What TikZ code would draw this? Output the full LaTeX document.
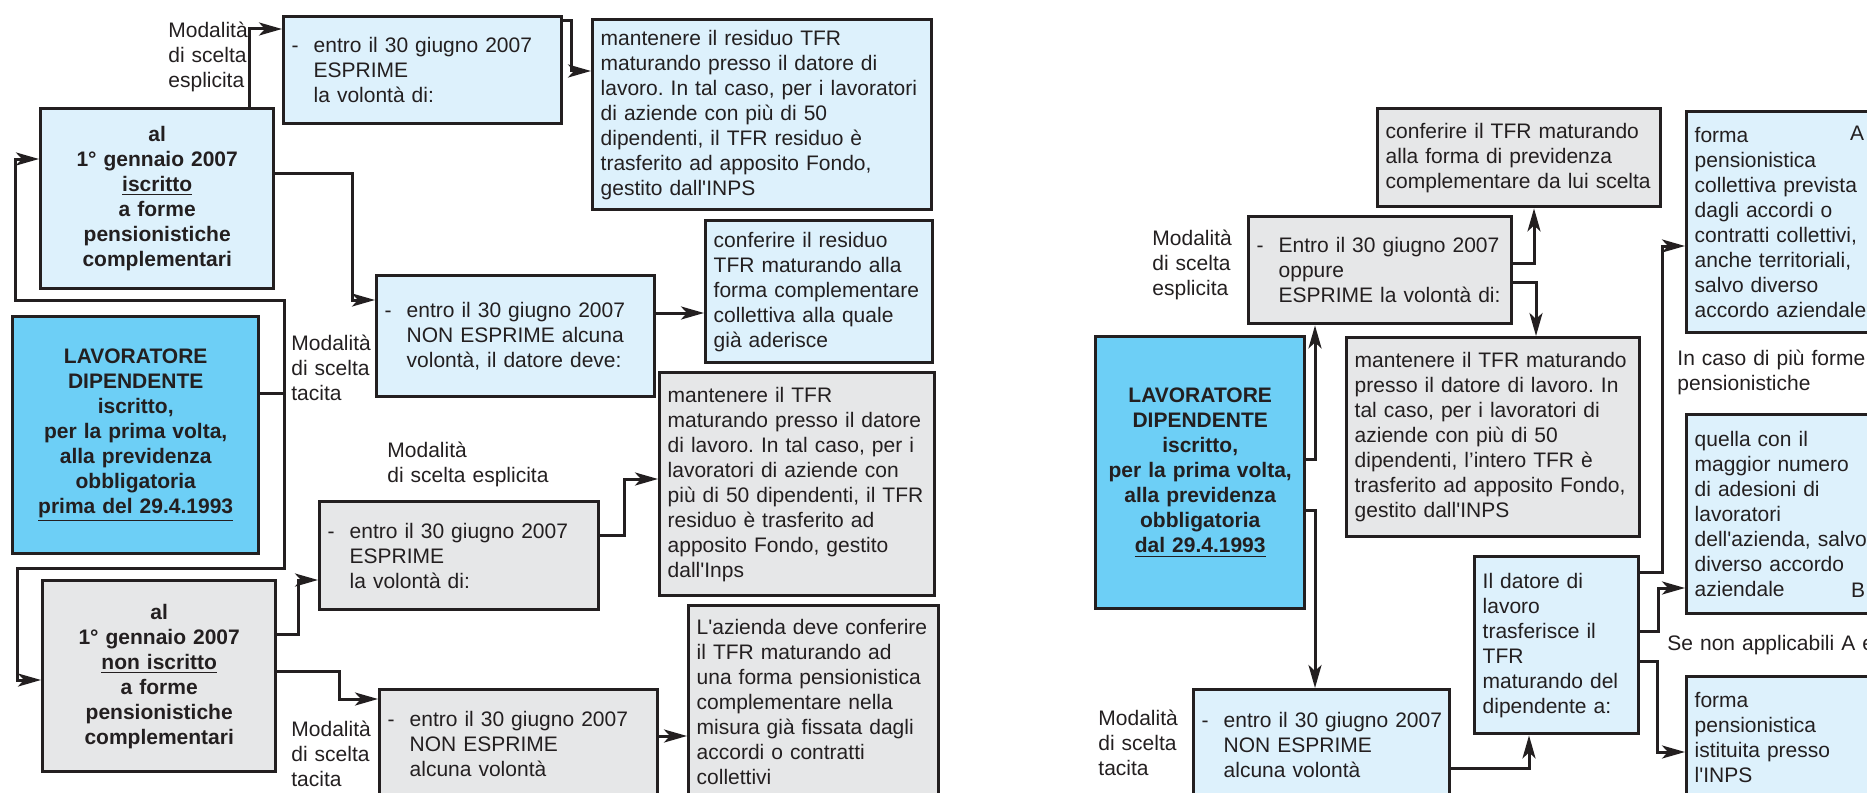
\documentclass[tikz,border=0pt]{standalone}
\usepackage{fontspec}
\setmainfont{Liberation Sans}
\usetikzlibrary{arrows.meta, calc}

\definecolor{azzurro}{RGB}{221,241,252}
\definecolor{celeste}{RGB}{109,207,246}
\definecolor{grigio}{RGB}{230,231,232}
\definecolor{bordo}{RGB}{35,31,32}

\newcommand{\trat}{\makebox[11pt][l]{-}}
\newcommand{\rientro}{\hspace*{11pt}}
\frenchspacing

\begin{document}
\begin{tikzpicture}[x=0.5pt, y=-0.5pt,
    every node/.style={font=\fontsize{10.5}{12.5}\selectfont, text=bordo},
    casella/.style={draw=bordo, line width=1.7pt, anchor=north west, inner xsep=4pt, inner ysep=0pt, align=left},
    chiaro/.style={casella, fill=azzurro},
    grigia/.style={casella, fill=grigio},
    forte/.style={casella, fill=celeste, align=center, font=\fontsize{10.5}{12.5}\selectfont\bfseries},
    etichetta/.style={anchor=base west, inner sep=0pt, align=left, text width=150pt},
    freccia/.style={draw=bordo, line width=1.5pt, -{Stealth[length=11.5pt, width=6.5pt, inset=3pt]}}]
  \useasboundingbox (0,0) rectangle (1867,792);
  \clip (0,0) rectangle (1867,792);
  \fill[white] (0,0) rectangle (1867,792);

  \node[forte, fill=azzurro, text width=108.5pt, minimum height=90pt] (iscr_1) at (39,107)
    {al\\1° gennaio 2007\\\underline{iscritto}\\a forme\\pensionistiche\\complementari};
  \node[forte, text width=115pt, minimum height=118.5pt] (lav_1) at (11,315)
    {LAVORATORE\\DIPENDENTE\\iscritto,\\per la prima volta,\\alla previdenza\\obbligatoria\\\underline{prima del 29.4.1993}};
  \node[forte, fill=grigio, text width=108.5pt, minimum height=95.5pt] (noniscr_1) at (41,579)
    {al\\1° gennaio 2007\\\underline{non iscritto}\\a forme\\pensionistiche\\complementari};
  \node[chiaro, text width=131pt, minimum height=53.5pt] (espr_1) at (282,15)
    {\trat entro il 30 giugno 2007\\\rientro ESPRIME\\\rientro la volontà di:};
  \node[chiaro, text width=161.5pt, minimum height=95pt] (mant_1) at (591,18)
    {mantenere il residuo TFR\\maturando presso il datore di\\lavoro. In tal caso, per i lavoratori\\di aziende con più di 50\\dipendenti, il TFR residuo è\\trasferito ad apposito Fondo,\\gestito dall\textquotesingle INPS};
  \node[chiaro, text width=131pt, minimum height=60.5pt] (nonespr_1) at (375,274)
    {\trat entro il 30 giugno 2007\\\rientro NON ESPRIME alcuna\\\rientro volontà, il datore deve:};
  \node[chiaro, text width=105.5pt, minimum height=71pt] (conf_1) at (704,219)
    {conferire il residuo\\TFR maturando alla\\forma complementare\\collettiva alla quale\\già aderisce};
  \node[grigia, text width=131.5pt, minimum height=54pt] (espr_2) at (318,500)
    {\trat entro il 30 giugno 2007\\\rientro ESPRIME\\\rientro la volontà di:};
  \node[grigia, text width=129.5pt, minimum height=111.5pt] (mant_2) at (658,371)
    {mantenere il TFR\\maturando presso il datore\\di lavoro. In tal caso, per i\\lavoratori di aziende con\\più di 50 dipendenti, il TFR\\residuo è trasferito ad\\apposito Fondo, gestito\\dall\textquotesingle Inps};
  \node[grigia, text width=131pt, minimum height=54pt] (nonespr_2) at (378,688)
    {\trat entro il 30 giugno 2007\\\rientro NON ESPRIME\\\rientro alcuna volontà};
  \node[grigia, text width=117pt, minimum height=96pt] (azienda_1) at (687,604)
    {L\textquotesingle azienda deve conferire\\il TFR maturando ad\\una forma pensionistica\\complementare nella\\misura già fissata dagli\\accordi o contratti\\collettivi};

  \node[etichetta] (mod_1) at (168,38) {Modalità\\di scelta\\esplicita};
  \node[etichetta] (mod_2) at (291,350) {Modalità\\di scelta\\tacita};
  \node[etichetta] (mod_3) at (387,457) {Modalità\\di scelta esplicita};
  \node[etichetta] (mod_4) at (291,736) {Modalità\\di scelta\\tacita};

  \node[forte, text width=96.5pt, minimum height=136pt] (lav_2) at (1094,335)
    {LAVORATORE\\DIPENDENTE\\iscritto,\\per la prima volta,\\alla previdenza\\obbligatoria\\\underline{dal 29.4.1993}};
  \node[grigia, text width=133.5pt, minimum height=49pt] (conf_2) at (1376,107)
    {conferire il TFR maturando\\alla forma di previdenza\\complementare da lui scelta};
  \node[grigia, text width=123.5pt, minimum height=53.5pt] (espr_3) at (1247,215)
    {\trat Entro il 30 giugno 2007\\\rientro oppure\\\rientro ESPRIME la volontà di:};
  \node[grigia, text width=138.5pt, minimum height=99.5pt] (mant_3) at (1345,336)
    {mantenere il TFR maturando\\presso il datore di lavoro. In\\tal caso, per i lavoratori di\\aziende con più di 50\\dipendenti, l’intero TFR è\\trasferito ad apposito Fondo,\\gestito dall\textquotesingle INPS};
  \node[chiaro, text width=120pt, minimum height=55pt] (nonespr_3) at (1192,688)
    {\trat\mbox{entro il 30 giugno 2007}\\\rientro NON ESPRIME\\\rientro alcuna volontà};
  \node[chiaro, text width=74pt, minimum height=88.5pt] (datore_1) at (1473,555)
    {Il datore di\\lavoro\\trasferisce il\\TFR\\maturando del\\dipendente a:};
  \node[chiaro, text width=87pt, minimum height=110.5pt] (forma_A) at (1685,110)
    {forma\\pensionistica\\collettiva prevista\\dagli accordi o\\contratti collettivi,\\anche territoriali,\\salvo diverso\\accordo aziendale};
  \node[chiaro, text width=87pt, minimum height=99.5pt] (forma_B) at (1685,413)
    {quella con il\\maggior numero\\di adesioni di\\lavoratori\\dell\textquotesingle azienda, salvo\\diverso accordo\\aziendale};
  \node[chiaro, text width=87pt, minimum height=60.5pt] (forma_C) at (1685,675)
    {forma\\pensionistica\\istituita presso\\l\textquotesingle INPS};
  \node (lett_A) at (1857,133) {A};
  \node (lett_B) at (1858,590) {B};

  \node[etichetta] (mod_5) at (1152,245) {Modalità\\di scelta\\esplicita};
  \node[etichetta] (mod_6) at (1098,725) {Modalità\\di scelta\\tacita};
  \node[etichetta] (caso) at (1677,365) {In caso di più forme\\pensionistiche};
  \node[etichetta] (senon) at (1667,650) {\mbox{Se non applicabili A e B}};

  \draw[freccia] ($(iscr_1.north west)+(210,0)$) |- ($(espr_1.north west)+(0,14)$);
  \draw[freccia] ($(espr_1.north east)+(0,6)$) -- ++(8,0) |- ($(mant_1.north west)+(0,53)$);
  \draw[freccia] ($(iscr_1.north east)+(0,66)$) -- ++(77,0) |- ($(nonespr_1.north west)+(0,26)$);
  \draw[freccia] ($(nonespr_1.north east)+(0,39)$) coordinate (c_4) -- (c_4 -| conf_1.west);
  \draw[freccia] ($(lav_1.north east)+(0,78)$) -- ++(24,0) coordinate (j_1) |- ++(-269,-93)
    |- ($(iscr_1.north west)+(0,52)$);
  \draw[freccia] (j_1) |- ++(-267,175) |- ($(noniscr_1.north west)+(0,101)$);
  \draw[freccia] ($(noniscr_1.north east)+(0,55)$) -- ++(21,0) |- ($(espr_2.north west)+(0,80)$);
  \draw[freccia] ($(noniscr_1.north east)+(0,92)$) -- ++(62,0) |- ($(nonespr_2.north west)+(0,11)$);
  \draw[freccia] ($(espr_2.north east)+(0,35)$) -- ++(24,0) |- ($(mant_2.north west)+(0,108)$);
  \draw[freccia] ($(nonespr_2.north east)+(0,48)$) coordinate (c_10) -- (c_10 -| azienda_1.west);

  \draw[freccia] ($(lav_2.north east)+(0,124)$) -| ($(espr_3.south west)+(68,0)$);
  \draw[freccia] ($(lav_2.north east)+(0,175)$) -| ($(nonespr_3.north west)+(123,0)$);
  \draw[freccia] ($(espr_3.north east)+(0,48)$) -| ($(conf_2.south west)+(158,0)$);
  \draw[freccia] ($(espr_3.north east)+(0,67)$) -| ($(mant_3.north west)+(191,0)$);
  \draw[freccia] ($(nonespr_3.north east)+(0,80)$) -| ($(datore_1.south west)+(56,0)$);
  \draw[freccia] ($(datore_1.north east)+(0,17)$) -- ++(22,0) |- ($(forma_A.north west)+(0,136)$);
  \draw[freccia] ($(datore_1.north east)+(0,76)$) -- ++(18,0) |- ($(forma_B.north west)+(0,175)$);
  \draw[freccia] ($(datore_1.north east)+(0,106)$) -- ++(17,0) |- ($(forma_C.north west)+(0,77)$);
\end{tikzpicture}
\end{document}
